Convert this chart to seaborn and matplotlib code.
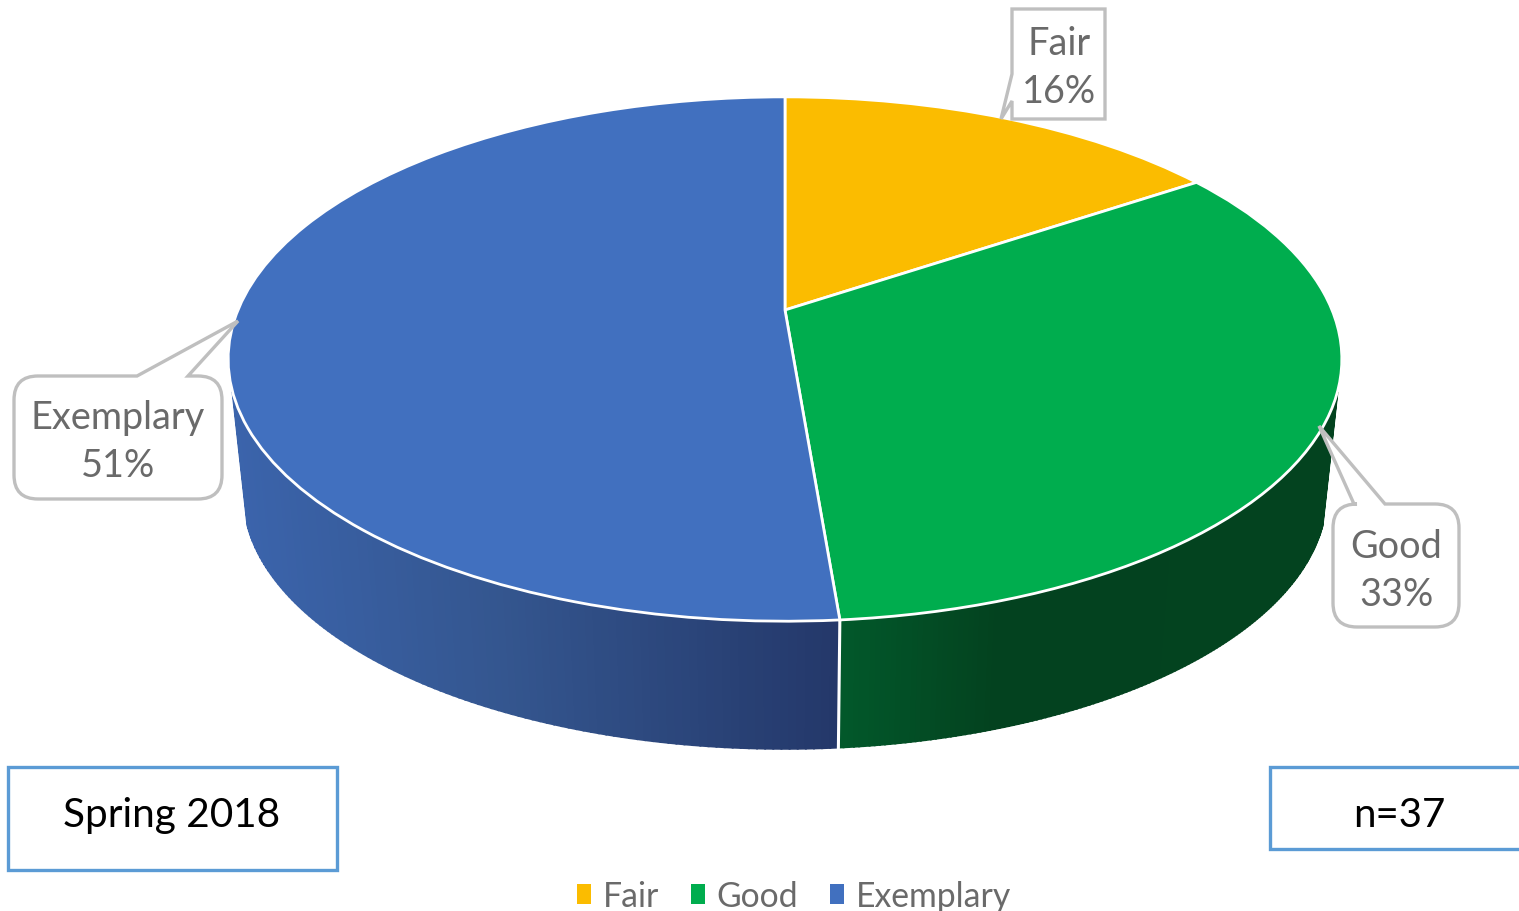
import numpy as np
import matplotlib
matplotlib.use("Agg")
import matplotlib.pyplot as plt
import seaborn as sns
from matplotlib.colors import to_rgb
from matplotlib.path import Path
from matplotlib.patches import PathPatch, Rectangle
from matplotlib.transforms import Transform

categories = ["Fair", "Good", "Exemplary"]
shares = [15.6, 33.1, 51.3]          # slice sizes
share_labels = ["16%", "33%", "51%"]  # printed data labels
box_left = "Spring 2018"
box_right = "n=37"
top_colors = ["#FBBC00", "#00AD4E", "#4170BF"]

sns.set_theme(style="white")
plt.rcParams["font.family"] = ["Lato", "DejaVu Sans"]


class Perspective(Transform):
    input_dims = 2
    output_dims = 2
    has_inverse = False
    is_separable = False

    def __init__(self, cx, cy, a, b, k):
        super().__init__()
        self.p = (cx, cy, a, b, k)

    def transform_non_affine(self, xy):
        xy = np.asarray(xy, float)
        cx, cy, a, b, k = self.p
        w = 1 + k * xy[:, 1]
        return np.column_stack([cx + a * xy[:, 0] / w, cy - b * xy[:, 1] / w])

    def transform_path_non_affine(self, path):
        return Path(self.transform_non_affine(path.vertices), path.codes)


fig = plt.figure(figsize=(15.19, 9.12), dpi=100, facecolor="white")
ax = fig.add_axes([0, 0, 1, 1])
wedges, _ = ax.pie(shares, startangle=90, counterclock=False, colors=top_colors,
                   wedgeprops=dict(edgecolor="white", linewidth=2.0, zorder=3))
ax.set_aspect("auto")
ax.set_xlim(0, 1519)
ax.set_ylim(912, 0)
ax.axis("off")

K = 0.187
top = Perspective(785, 311, 547, 253, K)
SC = 0.973
bottom = Perspective(785, 447, 547 * SC, 253 * SC, K)
for w in wedges:
    w.set_transform(top + ax.transData)
    w.set_clip_on(False)

wall_stops = {
    "Good": ([838, 1000, 1340], ["#02592B", "#03421F", "#03431F"]),
    "Exemplary": ([230, 500, 838], ["#3B64AC", "#34568F", "#24386A"]),
}
for name, w in zip(categories, wedges):
    if name not in wall_stops:
        continue
    xs, cols = wall_stops[name]
    rgb = np.array([to_rgb(c) for c in cols])
    th = np.radians(np.linspace(w.theta1, w.theta2, 260))
    unit = np.column_stack([np.cos(th), np.sin(th)])
    unit = unit[unit[:, 1] < -0.3]
    t = top.transform_non_affine(unit)
    b = bottom.transform_non_affine(unit)
    for i in range(len(unit) - 1):
        mx = (t[i, 0] + t[i + 1, 0]) / 2
        col = [np.interp(mx, xs, rgb[:, c]) for c in range(3)]
        ax.fill([t[i, 0], t[i + 1, 0], b[i + 1, 0], b[i, 0]],
                [t[i, 1], t[i + 1, 1], b[i + 1, 1], b[i, 1]],
                color=col, lw=1.4, zorder=1)

# white seam between the two visible walls (clockwise pie: Good ends at theta1)
seam = wedges[1].theta1
u = np.array([[np.cos(np.radians(seam)), np.sin(np.radians(seam))]])
p0, p1 = top.transform_non_affine(u)[0], bottom.transform_non_affine(u)[0]
ax.plot([p0[0], p1[0]], [p0[1], p1[1] + 2], color="white", lw=2.2, zorder=2,
        solid_capstyle="butt")

GRAY = "#BFBFBF"
TXT = "#6A6A6A"


def callout(x0, y0, x1, y1, r, pointer, side):
    """Rounded box (pixel axes, y down) with a pointer spliced into one side."""
    c = Path.CURVE3
    L = Path.LINETO
    v = [(x0 + r, y0)]
    k = [Path.MOVETO]
    if side == "top":
        for p in pointer:
            v.append(p)
            k.append(L)
    v += [(x1 - r, y0)]
    k += [L]
    if r:
        v += [(x1, y0), (x1, y0 + r)]
        k += [c, c]
    v += [(x1, y1 - r)]
    k += [L]
    if r:
        v += [(x1, y1), (x1 - r, y1)]
        k += [c, c]
    v += [(x0 + r, y1)]
    k += [L]
    if r:
        v += [(x0, y1), (x0, y1 - r)]
        k += [c, c]
    if side == "left":
        for p in pointer:
            v.append(p)
            k.append(L)
    v += [(x0, y0 + r)]
    k += [L]
    if r:
        v += [(x0, y0), (x0 + r, y0)]
        k += [c, c]
    v.append((x0 + r, y0))
    k.append(Path.CLOSEPOLY)
    ax.add_patch(PathPatch(Path(v, k), facecolor="white", edgecolor=GRAY, lw=2.4,
                           zorder=5, clip_on=False, joinstyle="miter"))


callout(14, 377, 222, 500, 24, [(137, 377), (238, 322), (188, 377)], "top")
callout(1333, 505, 1459, 628, 24, [(1354, 505), (1319, 427), (1385, 505)], "top")
callout(1012, 10, 1105, 120, 0, [(1012, 102), (1001, 120), (1012, 75)], "left")

label_pos = {"Fair": (1059, 68), "Good": (1396, 571), "Exemplary": (118, 442)}
for name, lab in zip(categories, share_labels):
    x, y = label_pos[name]
    ax.text(x, y, f"{name}\n{lab}", ha="center", va="center", fontsize=27.3,
            color=TXT, zorder=6, linespacing=1.43)

for (x, y, wd, h) in [(8, 768, 329, 103), (1270, 768, 260, 82)]:
    ax.add_patch(Rectangle((x, y), wd, h, facecolor="white", edgecolor="#5B9BD5",
                           lw=2.4, zorder=4))
ax.text(172, 816, box_left, ha="center", va="center", fontsize=29.2, color="black", zorder=6)
ax.text(1399, 816, box_right, ha="center", va="center", fontsize=29, color="black", zorder=6)

leg = ax.legend(wedges, categories, ncol=3, frameon=False, fontsize=24.3,
                loc="center", bbox_to_anchor=(794 / 1519, 1 - 897 / 912),
                handlelength=0.4, handleheight=0.5, handletextpad=0.35,
                columnspacing=0.95, labelcolor=TXT, borderpad=0)
for h in leg.legend_handles:
    h.set_edgecolor("none")
    h.set_linewidth(0)

fig.savefig("out.png", dpi=100)
